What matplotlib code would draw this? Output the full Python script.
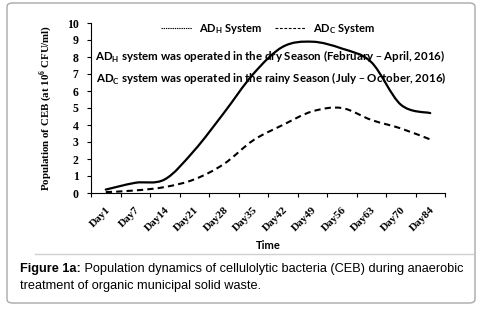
import numpy as np
import matplotlib
matplotlib.use("Agg")
import matplotlib.pyplot as plt
from matplotlib.path import Path
from matplotlib.patches import PathPatch, FancyBboxPatch
from matplotlib.lines import Line2D

# values
days = ["Day1", "Day7", "Day14", "Day21", "Day28", "Day35",
        "Day42", "Day49", "Day56", "Day63", "Day70", "Day84"]
adh = [0.2, 0.6, 0.8, 2.5, 4.7, 7.0, 8.6, 8.9, 8.5, 7.7, 5.2, 4.7]
adc = [0.05, 0.15, 0.35, 0.8, 1.7, 3.1, 4.0, 4.8, 5.0, 4.3, 3.8, 3.15]
y_ticks = list(range(0, 11))

serif = "Liberation Serif"
sans = "Lato"


def smooth_path(xs, ys):
    # Excel-style smoothed line: cubic bezier through the points
    pts = np.column_stack([xs, ys]).astype(float)
    verts = [pts[0]]
    codes = [Path.MOVETO]
    n = len(pts)
    for i in range(n - 1):
        p0 = pts[i - 1] if i > 0 else pts[i]
        p1, p2 = pts[i], pts[i + 1]
        p3 = pts[i + 2] if i + 2 < n else pts[i + 1]
        verts += [p1 + (p2 - p0) / 6, p2 - (p3 - p1) / 6, p2]
        codes += [Path.CURVE4] * 3
    return Path(verts, codes)


W, H = 482, 314
fig = plt.figure(figsize=(W / 100, H / 100), dpi=100)
fig.patch.set_facecolor("white")

# outer rounded frame and separator
frame = FancyBboxPatch((7 / W, 1 - 303 / H), 468 / W, 300 / H,
                       boxstyle="round,pad=0,rounding_size=0.012",
                       transform=fig.transFigure, fill=False,
                       edgecolor="#a8a8a8", linewidth=1.0)
fig.patches.append(frame)
fig.add_artist(Line2D([35 / W, 473 / W], [1 - 254 / H] * 2,
                      transform=fig.transFigure, color="#d0d0d0", lw=1.0))

ax = fig.add_axes([91 / W, 1 - 193 / H, 354 / W, 170 / H])
x = np.arange(len(days)) + 0.5

ax.add_patch(PathPatch(smooth_path(x, adh), fill=False, edgecolor="black",
                       linewidth=1.6, capstyle="round"))
ax.add_patch(PathPatch(smooth_path(x, adc), fill=False, edgecolor="black",
                       linewidth=1.5, linestyle=(0, (3, 2))))

ax.set_xlim(0, len(days))
ax.set_ylim(0, 10)
ax.set_xticks(np.arange(len(days) + 1))
ax.set_xticklabels([])
ax.set_xticks(x, minor=True)
ax.set_xticklabels(days, minor=True, rotation=45, ha="right",
                   rotation_mode="anchor", fontfamily=serif,
                   fontweight="bold", fontsize=8)
ax.tick_params(axis="x", which="minor", length=0, pad=9)
ax.tick_params(axis="x", which="major", length=3, width=0.8)
ax.set_yticks(y_ticks)
ax.set_yticklabels([str(v) for v in y_ticks], fontfamily=serif,
                   fontweight="bold", fontsize=8.5)
ax.tick_params(axis="y", length=3, width=0.8, pad=6)
for s in ("top", "right"):
    ax.spines[s].set_visible(False)
for s in ("left", "bottom"):
    ax.spines[s].set_linewidth(0.8)

ax.set_xlabel("Time", fontfamily=sans, fontweight="bold", fontsize=8,
              labelpad=5)
ax.set_ylabel("Population of CEB (at 10$^\\mathregular{6}$ CFU/ml)",
              fontfamily=serif, fontweight="bold", fontsize=7.8, labelpad=9)

# legend drawn like the original (dash samples)
handles = [Line2D([], [], color="black", lw=0.8, linestyle=(0, (1.2, 0.8))),
           Line2D([], [], color="black", lw=0.8, linestyle=(0, (2.5, 1.5)))]
ax.legend(handles, ["AD$_\\mathregular{H}$ System", "AD$_\\mathregular{C}$ System"],
          loc="upper center", bbox_to_anchor=(0.50, 1.065), ncol=2, frameon=False,
          prop={"family": sans, "weight": "bold", "size": 8},
          handlelength=2.8, handletextpad=0.6, columnspacing=1.2)

ax.text(0.012, 0.80,
        "AD$_\\mathregular{H}$ system was operated in the dry Season (February \u2013 April, 2016)",
        transform=ax.transAxes, fontfamily=sans, fontweight="bold", fontsize=8.3,
        va="center")
ax.text(0.015, 0.67,
        "AD$_\\mathregular{C}$ system was operated in the rainy Season (July \u2013 October, 2016)",
        transform=ax.transAxes, fontfamily=sans, fontweight="bold", fontsize=8.3,
        va="center")

# caption
t1 = fig.text(20 / W, 1 - 272 / H, "Figure 1a:", fontfamily="Liberation Sans",
              fontweight="bold", fontsize=9.2, va="baseline")
ax.annotate(" Population dynamics of cellulolytic bacteria (CEB) during anaerobic",
            xy=(1, 0), xycoords=t1, va="bottom", ha="left",
            fontfamily="Liberation Sans", fontsize=9.2)
fig.text(20 / W, 1 - 289 / H, "treatment of organic municipal solid waste.",
         fontfamily="Liberation Sans", fontsize=9.2, va="baseline")

fig.savefig("out.png", dpi=100)
